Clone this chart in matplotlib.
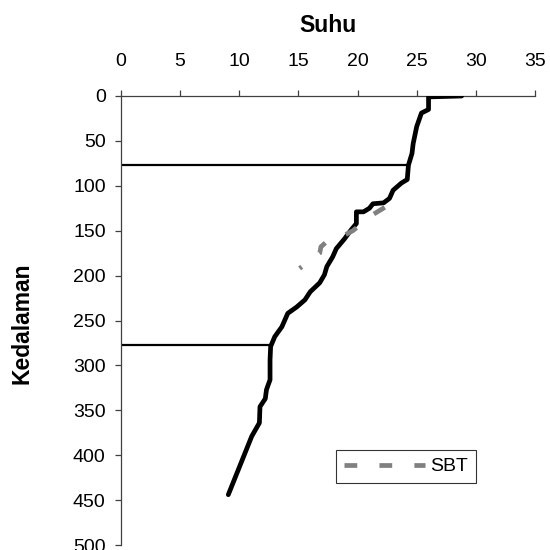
import matplotlib
matplotlib.use('Agg')
import matplotlib.pyplot as plt

plt.rcParams['font.family'] = ['Liberation Sans', 'DejaVu Sans']

# main temperature profile (suhu vs kedalaman)
suhu = [28.8, 26.0, 26.0, 25.4, 25.0, 24.7, 24.6, 24.3, 24.2, 23.7, 23.0, 22.7,
        22.2, 21.3, 21.0, 20.5, 19.9, 19.9, 19.4, 18.9, 18.2, 17.9, 17.4, 17.2,
        16.8, 16.0, 15.55, 14.85, 14.1, 13.6, 13.0, 12.65, 12.6, 12.6, 12.3,
        12.2, 11.75, 11.7, 11.05, 10.35, 9.07]
kedalaman = [0, 1, 15, 19, 34, 53, 64, 77, 93, 97, 105, 114,
             119, 120, 125, 129, 129, 142, 150, 159, 170, 179, 190, 199,
             208, 218, 227, 235, 242, 257, 268, 279, 294, 316, 327,
             337, 346, 364, 379, 402, 444]

# SBT profile
sbt_suhu = [22.3, 21.3, 19.6, 18.9, 17.4, 16.9, 16.8, 15.1]
sbt_kedalaman = [124, 132, 150, 155, 162, 168, 175, 192]

# layer boundaries
batas_kedalaman = [77, 277]
batas_suhu = [24.2, 12.6]

fig = plt.figure(figsize=(5.5, 5.5), dpi=100)
# axes box in pixels: x 121..535, y 96..545
ax = fig.add_axes([121 / 550, 5 / 550, 414 / 550, 449 / 550])

for d, t in zip(batas_kedalaman, batas_suhu):
    ax.plot([0, t], [d, d], color='black', lw=1.6, zorder=2)

ax.plot(suhu, kedalaman, color='black', lw=3.4, solid_joinstyle='round',
        solid_capstyle='round', zorder=3)
ax.plot(sbt_suhu, sbt_kedalaman, color='#808080', lw=3.4,
        dashes=(2.7, 4.7), label='SBT', zorder=4)

ax.set_xlim(0, 35)
ax.set_ylim(500, 0)
ax.set_xticks(range(0, 36, 5))
ax.set_yticks(range(0, 501, 50))

ax.xaxis.tick_top()
ax.spines['right'].set_visible(False)
ax.spines['bottom'].set_visible(False)
for s in ['top', 'left']:
    ax.spines[s].set_color('#404040')
    ax.spines[s].set_linewidth(0.9)
ax.tick_params(axis='both', direction='out', length=4, width=0.9,
               color='#404040', labelsize=14)
ax.tick_params(axis='x', pad=15)
ax.tick_params(axis='y', pad=7)

fig.text(328 / 550, 1 - 25 / 550, 'Suhu', ha='center', va='center',
         fontsize=16.5, fontweight='bold')
fig.text(22 / 550, 1 - 323 / 550, 'Kedalaman', ha='center', va='center',
         rotation=90, fontsize=16.5, fontweight='bold')

leg = ax.legend(loc='upper left', bbox_to_anchor=((336 - 121) / 414, 1 - (450 - 96) / 449),
                fontsize=14, frameon=True, fancybox=False, handlelength=4.2,
                borderpad=0.4, handletextpad=0.25, borderaxespad=0)
leg.get_frame().set_edgecolor('black')
leg.get_frame().set_linewidth(0.8)

fig.savefig('out.png', dpi=100)
